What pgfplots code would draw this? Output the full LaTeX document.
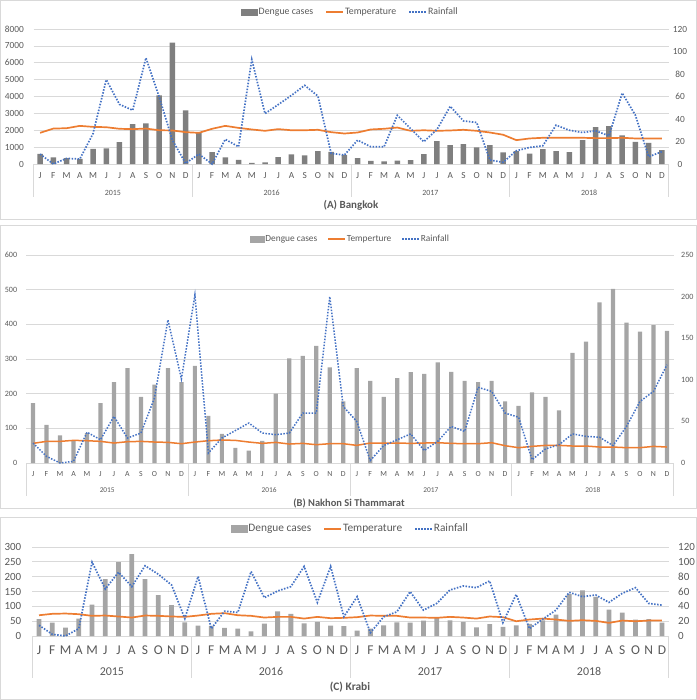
\documentclass[border=0pt]{standalone}
\usepackage{pgfplots}
\pgfplotsset{compat=1.18}
\usepackage{pgfplotstable}
\usepackage{fontspec}
\setmainfont{Carlito}
\definecolor{txt}{HTML}{595959}
\definecolor{gridc}{HTML}{D9D9D9}
\definecolor{barA}{HTML}{7F7F7F}
\definecolor{barB}{HTML}{A5A5A5}
\definecolor{tempc}{HTML}{ED7D31}
\definecolor{rainc}{HTML}{4472C4}

% x: month index 0..47 (Jan 2015 .. Dec 2018); d: dengue cases; t: temperature; r: rainfall
\pgfplotstableread{
x d t r
0 600 27.7 8.8
1 400 31.5 0
2 350 31.8 5
3 300 33.9 4.4
4 900 33.0 27
5 920 32.7 74.9
6 1290 31.3 53
7 2370 31.0 47.8
8 2410 31.5 94.3
9 4060 30.0 59.6
10 7200 29.8 21.2
11 3180 28.3 0.6
12 1860 27.7 8.8
13 700 31.3 0
14 400 33.9 22
15 250 32.1 15.3
16 60 30.7 92.9
17 100 29.5 44.8
18 410 31.0 52.8
19 570 30.0 61
20 510 30.0 69.9
21 760 30.4 60.4
22 720 28.3 9.4
23 530 27.1 8
24 350 28.0 21.2
25 180 30.7 15.3
26 160 31.3 15.3
27 200 32.4 43.3
28 235 29.5 31.5
29 590 30.0 19.8
30 1350 29.5 30.7
31 1120 29.8 51.3
32 1180 30.4 38.3
33 980 29.5 36.9
34 1120 28.0 3.5
35 690 26.0 1.5
36 760 21.2 11.8
37 610 22.7 14.7
38 880 23.3 16.2
39 760 23.3 34.5
40 700 23.3 30
41 1410 23.3 28
42 2180 23.0 29.5
43 2250 23.0 25
44 1700 23.3 63.1
45 1310 22.7 43.3
46 1250 22.7 6.5
47 820 22.7 10.9
}\tabA

\pgfplotstableread{
x d t r
0 173 23.6 24
1 110 26 8
2 80 26 0
3 65 27.2 2
4 86 26.8 37
5 173 26 28
6 233 24 56
7 274 25.6 30
8 191 26 36
9 226 25.2 78
10 274 24.8 172
11 233 23.2 101
12 280 25.2 202
13 136 26.8 12
14 84 27.6 30
15 44 27.2 39
16 36 25.2 48
17 64 23.6 36
18 200 24.8 34
19 302 22.8 36
20 309 23.6 60
21 338 22 60
22 276 23.2 200
23 178 23.2 68
24 274 21.2 50
25 237 24 3
26 191 24 21
27 245 24 28
28 262 23.6 35
29 257 24 15
30 290 24.4 26
31 263 23.6 44
32 237 23.2 38
33 233 23.2 91
34 237 24.4 86
35 178 20.8 60
36 165 18.4 55
37 204 20 4
38 191 21.2 17
39 152 21.2 22
40 318 20.4 35
41 350 20.4 32
42 463 19.2 31
43 502 19.2 21
44 405 18.4 44
45 379 18.4 74
46 398 20 86
47 381 19.2 118
}\tabB

\pgfplotstableread{
x d t r
0 57 28 14.5
1 45 29.9 2.3
2 28 30.3 0
3 59 29.4 10
4 106 27.2 99.6
5 192 27.6 63.4
6 249 26.3 86
7 276 24.9 66.6
8 192 27.6 94.7
9 138 27.2 83.3
10 104 26.3 68.8
11 46 25.8 23.5
12 35 27.6 80.2
13 34 29.9 10
14 27 30.8 33.5
15 25 28 31.7
16 16 27.2 87
17 42 24.9 51.6
18 83 25.8 60.7
19 75 25.8 66.6
20 43 23.5 93.8
21 48 25.8 45.3
22 35 24 93.8
23 33 24.5 26
24 18 25.4 53
25 25 27.6 4.5
26 36 27.2 25.8
27 46 27.2 32.6
28 45 24.9 59.8
29 52 24.9 34.9
30 61 24.5 43.9
31 53 25.8 62
32 48 24.9 67.5
33 29 23.5 65.2
34 40 26.3 74.3
35 31 25.4 18
36 36 19.9 56
37 41 22.2 10
38 53 23.5 22.6
39 72 22.2 34.9
40 141 20.4 58.9
41 154 21.3 53
42 132 20.4 55.3
43 89 17.7 45.3
44 79 20.8 57.5
45 55 19.9 65.2
46 57 20.8 43.9
47 45 20.8 41.7
}\tabC

\pgfplotsset{
  base/.style={
    scale only axis, xmin=-0.5, xmax=47.5, ymin=0,
    axis line style={draw=none},
    major tick length=0pt, minor tick length=0pt,
    clip=false,
    /pgf/number format/assume math mode=true,
    /pgf/number format/1000 sep={},
    scaled y ticks=false,
    tick label style={text=txt},
  },
  primary/.style={base,
    xtick={0,...,47},
    xticklabels={J,F,M,A,M,J,J,A,S,O,N,D,J,F,M,A,M,J,J,A,S,O,N,D,J,F,M,A,M,J,J,A,S,O,N,D,J,F,M,A,M,J,J,A,S,O,N,D},
    ymajorgrids, grid style={gridc, line width=0.75bp},
  },
  secondary/.style={base, hide x axis, yticklabel pos=right},
  rainstyle/.style={rainc, line width=1.7bp, dash pattern=on 1.5bp off 1.5bp},
  tempstyle/.style={tempc, line width=1.7bp},
}

\begin{document}
\begin{tikzpicture}
\useasboundingbox (0,0) rectangle (697bp,-700bp);
% panel frames
\draw[gridc, line width=0.75bp] (0.5bp,-0.5bp) rectangle (696.5bp,-219.5bp);
\draw[gridc, line width=0.75bp] (0.5bp,-225bp) rectangle (696.5bp,-508bp);
\draw[gridc, line width=0.75bp] (0.5bp,-517bp) rectangle (696.5bp,-699.5bp);

% ================= Panel A =================
\begin{axis}[primary, at={(33.5bp,-164bp)}, anchor=south west,
  width=635bp, height=135bp, ymax=8000, ytick={0,1000,...,8000},
  yticklabel style={anchor=east, inner sep=0pt, xshift=-9.5bp, font=\fontsize{9.4}{11}\selectfont},
  xticklabel style={anchor=base, inner sep=0pt, yshift=-14.3bp, font=\fontsize{9.3}{11}\selectfont},
]
\addplot[ybar, bar width=5.5bp, fill=barA, draw=none] table[x=x,y=d]{\tabA};
\pgfplotsinvokeforeach{-0.5,11.5,23.5,35.5,47.5}{\draw[gridc, line width=0.75bp] (axis cs:#1,0) -- ([yshift=-33bp]axis cs:#1,0);}
\node[anchor=base, yshift=-31bp, text=txt, font=\fontsize{8}{10}\selectfont] at (axis cs:5.5,0) {2015};
\node[anchor=base, yshift=-31bp, text=txt, font=\fontsize{8}{10}\selectfont] at (axis cs:17.5,0) {2016};
\node[anchor=base, yshift=-31bp, text=txt, font=\fontsize{8}{10}\selectfont] at (axis cs:29.5,0) {2017};
\node[anchor=base, yshift=-31bp, text=txt, font=\fontsize{8}{10}\selectfont] at (axis cs:41.5,0) {2018};
\end{axis}
\begin{axis}[secondary, at={(33.5bp,-164bp)}, anchor=south west,
  width=635bp, height=135bp, ymax=120, ytick={0,20,...,120},
  yticklabel style={anchor=center, inner sep=0pt, xshift=11.5bp, font=\fontsize{9.4}{11}\selectfont},
  legend style={at={(0.4984,1.128)}, anchor=center, draw=none, fill=none,
    font=\fontsize{9.9}{11}\selectfont, text=txt, legend columns=3,
    /tikz/every even column/.append style={column sep=11bp}, nodes={inner sep=1bp}},
]
\addlegendimage{legend image code/.code={\fill[barA] (0bp,-3bp) rectangle (16bp,3bp);}}
\addlegendentry{Dengue cases}
\addplot[tempstyle] table[x=x,y=t]{\tabA};
\addlegendentry{Temperature}
\addplot[rainstyle] table[x=x,y=r]{\tabA};
\addlegendentry{Rainfall}
\end{axis}
\node[anchor=base, text=txt, font=\bfseries\fontsize{11}{13}\selectfont] at (351bp,-208.3bp) {(A) Bangkok};

% ================= Panel B =================
\begin{axis}[primary, at={(26.3bp,-463bp)}, anchor=south west,
  width=647.4bp, height=208bp, ymax=600, ytick={0,100,...,600},
  yticklabel style={anchor=east, inner sep=0pt, xshift=-9bp, font=\fontsize{8.1}{10}\selectfont},
  xticklabel style={anchor=base, inner sep=0pt, yshift=-13.7bp, font=\fontsize{7.8}{10}\selectfont},
]
\addplot[ybar, bar width=4.2bp, fill=barB, draw=none] table[x=x,y=d]{\tabB};
\pgfplotsinvokeforeach{-0.5,11.5,23.5,35.5,47.5}{\draw[gridc, line width=0.75bp] (axis cs:#1,0) -- ([yshift=-33bp]axis cs:#1,0);}
\node[anchor=base, yshift=-29.3bp, text=txt, font=\fontsize{7.4}{9}\selectfont] at (axis cs:5.5,0) {2015};
\node[anchor=base, yshift=-29.3bp, text=txt, font=\fontsize{7.4}{9}\selectfont] at (axis cs:17.5,0) {2016};
\node[anchor=base, yshift=-29.3bp, text=txt, font=\fontsize{7.4}{9}\selectfont] at (axis cs:29.5,0) {2017};
\node[anchor=base, yshift=-29.3bp, text=txt, font=\fontsize{7.4}{9}\selectfont] at (axis cs:41.5,0) {2018};
\end{axis}
\begin{axis}[secondary, at={(26.3bp,-463bp)}, anchor=south west,
  width=647.4bp, height=208bp, ymax=250, ytick={0,50,...,250},
  yticklabel style={anchor=west, inner sep=0pt, xshift=7.3bp, font=\fontsize{8.1}{10}\selectfont},
  legend style={at={(0.5,1.077)}, anchor=center, draw=none, fill=none,
    font=\fontsize{9.4}{11}\selectfont, text=txt, legend columns=3,
    /tikz/every even column/.append style={column sep=9bp}, nodes={inner sep=1bp}},
]
\addlegendimage{legend image code/.code={\fill[barB] (0bp,-3bp) rectangle (14bp,3bp);}}
\addlegendentry{Dengue cases}
\addplot[tempstyle, line width=1.5bp] table[x=x,y=t]{\tabB};
\addlegendentry{Temperture}
\addplot[rainstyle, line width=1.5bp] table[x=x,y=r]{\tabB};
\addlegendentry{Rainfall}
\end{axis}
\node[anchor=base, text=txt, font=\bfseries\fontsize{10.5}{12}\selectfont] at (349bp,-506bp) {(B) Nakhon Si Thammarat};

% ================= Panel C =================
\begin{axis}[primary, at={(32.4bp,-636bp)}, anchor=south west,
  width=636.2bp, height=89bp, ymax=300, ytick={0,50,...,300},
  yticklabel style={anchor=east, inner sep=0pt, xshift=-10.9bp, font=\fontsize{11}{13}\selectfont},
  xticklabel style={anchor=base, inner sep=0pt, yshift=-18.3bp, font=\fontsize{13.5}{15}\selectfont},
]
\addplot[ybar, bar width=4.8bp, fill=barB, draw=none] table[x=x,y=d]{\tabC};
\pgfplotsinvokeforeach{-0.5,11.5,23.5,35.5,47.5}{\draw[gridc, line width=0.75bp] (axis cs:#1,0) -- ([yshift=-42bp]axis cs:#1,0);}
\node[anchor=base, yshift=-39bp, text=txt, font=\fontsize{12}{14}\selectfont] at (axis cs:5.5,0) {2015};
\node[anchor=base, yshift=-39bp, text=txt, font=\fontsize{12}{14}\selectfont] at (axis cs:17.5,0) {2016};
\node[anchor=base, yshift=-39bp, text=txt, font=\fontsize{12}{14}\selectfont] at (axis cs:29.5,0) {2017};
\node[anchor=base, yshift=-39bp, text=txt, font=\fontsize{12}{14}\selectfont] at (axis cs:41.5,0) {2018};
\end{axis}
\begin{axis}[secondary, at={(32.4bp,-636bp)}, anchor=south west,
  width=636.2bp, height=89bp, ymax=120, ytick={0,20,...,120},
  yticklabel style={anchor=west, inner sep=0pt, xshift=9.4bp, font=\fontsize{11}{13}\selectfont},
  legend style={at={(0.4992,1.2056)}, anchor=center, draw=none, fill=none,
    font=\fontsize{11.4}{13}\selectfont, text=txt, legend columns=3,
    /tikz/every even column/.append style={column sep=11bp}, nodes={inner sep=1bp}},
]
\addlegendimage{legend image code/.code={\fill[barB] (0bp,-3.5bp) rectangle (16bp,3.5bp);}}
\addlegendentry{Dengue cases}
\addplot[tempstyle] table[x=x,y=t]{\tabC};
\addlegendentry{Temperature}
\addplot[rainstyle] table[x=x,y=r]{\tabC};
\addlegendentry{Rainfall}
\end{axis}
\node[anchor=base, text=txt, font=\bfseries\fontsize{11.5}{13}\selectfont] at (350bp,-690bp) {(C) Krabi};
\end{tikzpicture}
\end{document}
